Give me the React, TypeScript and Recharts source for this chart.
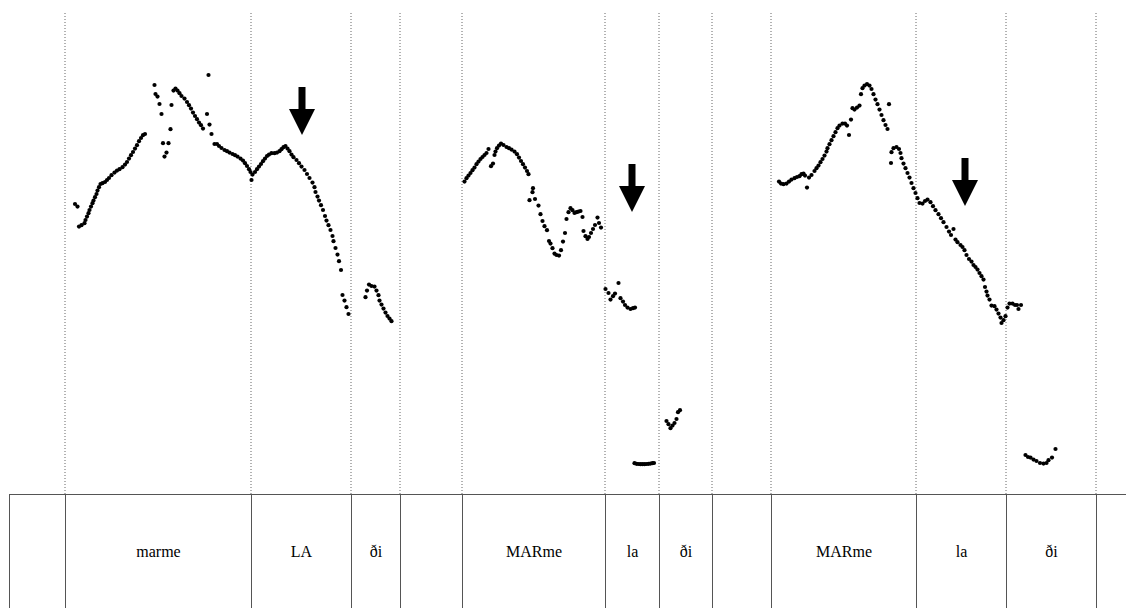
import React from "react";
import { ScatterChart, Scatter, XAxis, YAxis, ReferenceLine } from "recharts";

// time in ms, f0 in Hz
const pitchPhrase1: [number, number][] = [
  [132, 225], [137, 223.7], [140, 213.7], [145, 214.4], [151, 215.4], [153, 217], [156, 218.7], [159, 220.4],
  [161, 222], [164, 223.7], [167, 225.4], [169, 226.7], [172, 228.4], [175, 230], [177, 231.7], [180, 233.4],
  [183, 235], [187, 235.4], [192, 236], [196, 237], [200, 238], [205, 239.4], [211, 240.7], [216, 241.7],
  [221, 242.4], [227, 243.4], [232, 244.7], [236, 246], [240, 247.7], [244, 249.4], [248, 251], [252, 252.7],
  [256, 254.4], [260, 256.4], [264, 258], [268, 259.4], [272, 260],
  [291, 284.5], [293, 280], [297, 278.7], [301, 275], [305, 270], [308, 255.4], [319, 255.4], [311, 248.7],
  [315, 250.7], [323, 262.4], [325, 274.5],
  [329, 281.7], [333, 282.7], [337, 281.7], [341, 280.4], [345, 279], [351, 277.7], [356, 276], [360, 274.4],
  [364, 272.7], [368, 270.7], [372, 269], [376, 267.4], [380, 265.7], [384, 264.4], [388, 262.7],
  [399, 289.5], [396, 270], [401, 264.7], [405, 260],
  [411, 255], [416, 255], [420, 254], [425, 253], [431, 252], [436, 251.4], [441, 250.7], [447, 250],
  [452, 249.4], [457, 248.7], [463, 247.7], [468, 246.7], [472, 245.4], [476, 244], [480, 242.4], [483, 241],
  [487, 239.7], [485, 237],
  [492, 241], [496, 242.4], [500, 243.7], [504, 245], [508, 246.4], [512, 247.7], [516, 249], [520, 249.7],
  [525, 250.4], [531, 250.4], [536, 250.7], [541, 251.4], [545, 252.4], [549, 253.4], [553, 254], [557, 252.7],
  [561, 251.4], [565, 249.7], [569, 248.4], [575, 247], [580, 245.4], [585, 243.7], [591, 242], [596, 240],
  [601, 238], [607, 235.7], [611, 233.4], [613, 231], [617, 228.7], [620, 226.7], [624, 224.4], [628, 222],
  [632, 219], [635, 216.7], [639, 214.4], [643, 212], [647, 209], [649, 206.4], [653, 203], [657, 199.7],
  [660, 196.4], [664, 192], [667, 179.5], [671, 176.7], [675, 173.4], [679, 170],
  [713, 178.4], [716, 181.7], [720, 184.7], [725, 184], [731, 183.7], [735, 181.7], [739, 179.4], [741, 176.7],
  [745, 174.7], [749, 172.7], [753, 170.7], [757, 169], [761, 167.7], [765, 166.4],
];

const pitchPhrase2: [number, number][] = [
  [911, 236.2], [915, 237.9], [919, 239.2], [923, 240.5], [927, 241.9], [931, 243.2], [935, 244.9], [939, 246.2],
  [943, 247.5], [947, 248.5], [951, 249.5], [955, 250.5], [959, 252.5], [964, 243.9], [968, 245.2], [971, 249.5],
  [973, 251.2], [976, 252.9], [980, 254.2], [984, 255.2], [989, 254.5], [995, 253.5], [1000, 252.9], [1005, 252.2],
  [1011, 251.2], [1016, 249.9], [1020, 248.2], [1024, 246.5], [1028, 244.9], [1032, 243.2], [1036, 241.5], [1039, 239.9],
  [1048, 232.9], [1047, 230.9], [1041, 226.9], [1052, 227.5], [1059, 224.2], [1063, 219.9], [1067, 216.5], [1071, 213.9],
  [1076, 211.9], [1080, 206.5], [1083, 205.2], [1087, 202.9], [1091, 200.2], [1095, 199.5], [1100, 199.2], [1104, 201.9],
  [1108, 206.2], [1112, 210.5], [1115, 217.5], [1119, 220.9], [1123, 222.9], [1127, 221.9], [1131, 220.5], [1135, 220.9],
  [1139, 221.2], [1143, 221.5], [1147, 218.5], [1149, 211.5], [1153, 208.9], [1157, 207.5], [1160, 208.5], [1164, 210.5],
  [1168, 212.5], [1172, 214.5], [1177, 218.2], [1180, 215.5], [1184, 213.2],
  [1193, 182.5], [1199, 180.5], [1203, 177.2], [1208, 178.9], [1212, 180.2], [1219, 185.5], [1223, 177.9], [1228, 176.2],
  [1232, 174.5], [1237, 173.2], [1243, 172.5], [1248, 172.9], [1252, 173.2],
  [1251, 95.4], [1255, 95.1], [1259, 95], [1263, 94.9], [1267, 94.9], [1271, 94.9], [1275, 95], [1279, 95.1],
  [1283, 95.2], [1287, 95.4], [1290, 95.5],
  [1315, 116.5], [1319, 114.9], [1323, 112.9], [1327, 114.2], [1331, 115.5], [1335, 117.5], [1338, 120.9], [1342, 121.9],
];

const pitchPhrase3: [number, number][] = [
  [1540, 236.2], [1544, 235.2], [1549, 234.9], [1555, 235.2], [1560, 236.2], [1565, 237.2], [1571, 237.9], [1576, 238.5],
  [1581, 238.9], [1585, 239.9], [1589, 240.2], [1592, 239.2], [1596, 233.2], [1600, 238.2], [1605, 239.5], [1611, 241.5],
  [1615, 242.9], [1619, 244.2], [1623, 245.9], [1627, 247.5], [1631, 249.2], [1635, 251.2], [1637, 252.9], [1641, 254.9],
  [1645, 256.9], [1649, 258.9], [1653, 260.9], [1657, 262.9], [1661, 264.2], [1667, 265.2], [1672, 265.2], [1676, 264.2],
  [1680, 259.5], [1684, 267.2], [1687, 272.9], [1691, 272.2], [1696, 273.2], [1701, 274.2], [1704, 279.9], [1707, 282.9],
  [1711, 284.2], [1716, 284.9], [1721, 284.2], [1725, 282.5], [1729, 279.9], [1733, 277.2], [1737, 274.9], [1741, 272.2],
  [1745, 269.5], [1749, 266.9], [1753, 264.5], [1757, 262.5], [1760, 274.9], [1764, 245.5], [1765, 250.9], [1769, 252.9],
  [1775, 253.5], [1780, 252.5], [1783, 250.5], [1785, 247.9], [1789, 245.2], [1793, 242.9], [1797, 240.5], [1801, 238.2],
  [1805, 235.5], [1809, 232.9], [1813, 230.5], [1817, 227.9], [1821, 225.5], [1827, 225.2], [1832, 226.5], [1837, 227.2],
  [1843, 225.9], [1848, 223.9], [1853, 221.9], [1859, 219.9], [1864, 217.9], [1869, 215.9], [1875, 213.5], [1880, 211.2],
  [1884, 209.5], [1889, 212.5], [1893, 207.2], [1897, 205.9], [1903, 204.5], [1907, 203.5], [1911, 201.9], [1915, 199.5],
  [1920, 197.5], [1925, 196.2], [1929, 194.5], [1933, 193.5], [1937, 192.2], [1941, 190.5], [1945, 188.9], [1949, 187.2],
  [1952, 183.5], [1955, 181.2], [1957, 179.2], [1961, 177.2], [1965, 174.2], [1971, 173.9], [1975, 172.2], [1979, 170.2],
  [1983, 168.2], [1985, 165.5], [1989, 166.9], [1993, 168.9], [1997, 173.2], [2001, 175.2], [2007, 175.2], [2012, 174.5],
  [2016, 174.5], [2019, 172.5], [2024, 174.5],
  [2033, 99.5], [2038, 98.5], [2043, 98.2], [2049, 97.2], [2055, 96.5], [2062, 95.5], [2069, 95.2], [2075, 95.5],
  [2079, 96.9], [2086, 98.2], [2093, 102.5],
];

// arrow tips (ms, Hz)
const arrowTips: [number, number][] = [
  [586, 259.5],
  [1246, 221],
  [1912, 224],
];

// segment boundaries (ms) and syllable labels
const boundaries = [112, 484, 684, 782, 906, 1192, 1300, 1406, 1524, 1814, 1994, 2174];
const syllables = ["", "marme", "LA", "ði", "", "MARme", "la", "ði", "", "MARme", "la", "ði", ""];

const T_MAX = 2250;
const F_MIN = 80;
const F_MAX = 321.5;

const CHART_W = 1126;
const CHART_H = 486;
const PX_PER_MS = 1125 / T_MAX;
const SERIF = '"Liberation Serif", "DejaVu Serif", serif';

const toPts = (arr: [number, number][]) => arr.map(([t, f]) => ({ t, f }));

const Dot = (props: any) => {
  const { cx, cy } = props;
  if (cx == null || cy == null) return null;
  return <circle cx={cx} cy={cy} r={2.1} fill="#000" />;
};

const Arrow = (props: any) => {
  const { cx, cy } = props;
  if (cx == null || cy == null) return null;
  const pts = [
    [cx - 3.5, cy - 48],
    [cx + 3.5, cy - 48],
    [cx + 3.5, cy - 26],
    [cx + 13, cy - 26],
    [cx, cy],
    [cx - 13, cy - 26],
    [cx - 3.5, cy - 26],
  ]
    .map((p) => p.join(","))
    .join(" ");
  return <polygon points={pts} fill="#000" />;
};

export default function App() {
  const edges = [0, ...boundaries, T_MAX];
  return (
    <div style={{ width: CHART_W }}>
      <ScatterChart width={CHART_W} height={CHART_H} margin={{ top: 3, right: 0, bottom: 0, left: 1 }}>
        <XAxis dataKey="t" type="number" domain={[0, T_MAX]} hide allowDataOverflow />
        <YAxis dataKey="f" type="number" domain={[F_MIN, F_MAX]} hide allowDataOverflow />
        {boundaries.map((b) => (
          <ReferenceLine key={b} x={b} stroke="#666" strokeDasharray="1 2" strokeWidth={1} />
        ))}
        <Scatter data={toPts(pitchPhrase1)} shape={Dot} isAnimationActive={false} />
        <Scatter data={toPts(pitchPhrase2)} shape={Dot} isAnimationActive={false} />
        <Scatter data={toPts(pitchPhrase3)} shape={Dot} isAnimationActive={false} />
        <Scatter data={toPts(arrowTips)} shape={Arrow} isAnimationActive={false} />
      </ScatterChart>
      <div
        style={{
          marginLeft: 1,
          width: 1125,
          height: 114,
          display: "flex",
          borderTop: "1px solid #555",
          boxSizing: "border-box",
          fontFamily: SERIF,
          fontSize: 16,
          color: "#000",
        }}
      >
        {syllables.map((s, i) => (
          <div
            key={i}
            style={{
              width: (edges[i + 1] - edges[i]) * PX_PER_MS,
              flex: "none",
              boxSizing: "border-box",
              borderLeft: "1px solid #555",
              display: "flex",
              alignItems: "center",
              justifyContent: "center",
              fontFamily: SERIF,
            }}
          >
            {s}
          </div>
        ))}
      </div>
    </div>
  );
}
